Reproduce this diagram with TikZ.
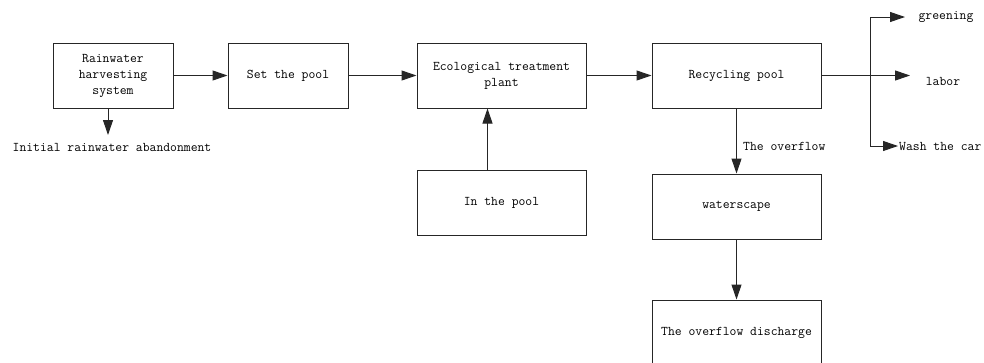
\documentclass[tikz,border=0pt]{standalone}
\usetikzlibrary{arrows.meta}
\begin{document}
\begin{tikzpicture}[x=1pt,y=-1pt,
  font=\ttfamily\fontsize{13.3}{16}\selectfont,
  box/.style={draw=black!85,line width=1pt,minimum height=65pt,inner sep=2pt,align=center},
  arr/.style={draw=black!85,line width=1pt,-{Triangle[length=15pt,width=10pt]}},
  ln/.style={draw=black!85,line width=1pt},
  lbl/.style={inner sep=0pt}]
\clip (0,0) rectangle (984,362);
\fill[white] (0,0) rectangle (984,362);
\node[box,minimum width=120pt] (rain) at (113,75.5) {Rainwater\\harvesting\\system};
\node[box,minimum width=120pt] (set) at (288,75.5) {Set the pool};
\node[box,minimum width=169pt] (eco) at (501.5,75.5) {Ecological treatment\\plant};
\node[box,minimum width=169pt] (inpool) at (501.5,202.5) {In the pool};
\node[box,minimum width=169pt] (recyc) at (736.5,75.5) {Recycling pool};
\node[box,minimum width=169pt] (water) at (736.5,206.5) {waterscape};
\node[box,minimum width=169pt] (disch) at (736.5,332.5) {The overflow discharge};

\node[lbl] (init) at (112,147) {Initial rainwater abandonment};
\node[lbl,anchor=west] (overflow) at (743,146) {The overflow};
\node[lbl] (green) at (946,17) {greening};
\node[lbl] (labor) at (943,81) {labor};
\node[lbl,anchor=west] (wash) at (899,146) {Wash the car};

\coordinate (raindn) at (108,135);
\draw[arr] ([xshift=-5pt]rain.south) -- (raindn);
\draw[arr] (rain.east) -- (set.west);
\draw[arr] (set.east) -- (eco.west);
\draw[arr] ([xshift=-14pt]inpool.north) -- ([xshift=-14pt]eco.south);
\draw[arr] (eco.east) -- (recyc.west);
\draw[arr] (recyc.south) -- (water.north);
\draw[arr] (water.south) -- (disch.north);

\coordinate (br) at (870,75.5);
\coordinate (brtop) at (870,17);
\coordinate (brbot) at (870,146);
\coordinate (tgreen) at (905,17);
\coordinate (tlabor) at (910,75.5);
\coordinate (twash) at (898,146);
\draw[ln] (brtop) -- (brbot);
\draw[arr] (recyc.east) -- (tlabor);
\draw[arr] (brtop) -- (tgreen);
\draw[arr] (brbot) -- (twash);
\end{tikzpicture}
\end{document}
